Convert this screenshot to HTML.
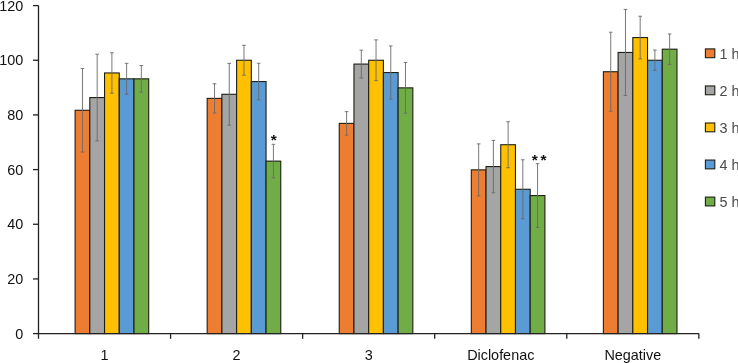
<!DOCTYPE html>
<html><head><meta charset="utf-8"><title>Chart</title>
<style>
html,body{margin:0;padding:0;background:#fff;}
body{width:738px;height:363px;overflow:hidden;}
svg text{font-family:"Liberation Sans",sans-serif;}
.t{font-size:14.4px;fill:#111;}
.l{font-size:14.4px;fill:#4a4a4a;}
.s{font-size:15.5px;fill:#111;font-weight:bold;}
</style></head><body>
<svg width="738" height="363" viewBox="0 0 738 363" style="display:block">
<rect width="738" height="363" fill="#fff"/>
<rect x="75.10" y="110.27" width="14.72" height="223.33" fill="#ED7D31" stroke="#1e1e14" stroke-width="1.1"/>
<rect x="89.82" y="97.56" width="14.72" height="236.04" fill="#A5A5A5" stroke="#1e1e14" stroke-width="1.1"/>
<rect x="104.54" y="72.96" width="14.72" height="260.64" fill="#FFC000" stroke="#1e1e14" stroke-width="1.1"/>
<rect x="119.26" y="78.84" width="14.72" height="254.76" fill="#5B9BD5" stroke="#1e1e14" stroke-width="1.1"/>
<rect x="133.98" y="78.84" width="14.72" height="254.76" fill="#70AD47" stroke="#1e1e14" stroke-width="1.1"/>
<path d="M82.46 68.47V152.07M80.66 68.47h3.6M80.66 152.07h3.6" stroke="#6a6a6a" stroke-width="0.9" fill="none"/>
<path d="M97.18 54.26V140.86M95.38 54.26h3.6M95.38 140.86h3.6" stroke="#6a6a6a" stroke-width="0.9" fill="none"/>
<path d="M111.90 52.76V93.16M110.10 52.76h3.6M110.10 93.16h3.6" stroke="#6a6a6a" stroke-width="0.9" fill="none"/>
<path d="M126.62 63.34V94.34M124.82 63.34h3.6M124.82 94.34h3.6" stroke="#6a6a6a" stroke-width="0.9" fill="none"/>
<path d="M141.34 65.54V92.14M139.54 65.54h3.6M139.54 92.14h3.6" stroke="#6a6a6a" stroke-width="0.9" fill="none"/>
<rect x="207.17" y="98.38" width="14.72" height="235.22" fill="#ED7D31" stroke="#1e1e14" stroke-width="1.1"/>
<rect x="221.89" y="94.28" width="14.72" height="239.32" fill="#A5A5A5" stroke="#1e1e14" stroke-width="1.1"/>
<rect x="236.61" y="60.25" width="14.72" height="273.35" fill="#FFC000" stroke="#1e1e14" stroke-width="1.1"/>
<rect x="251.33" y="81.57" width="14.72" height="252.03" fill="#5B9BD5" stroke="#1e1e14" stroke-width="1.1"/>
<rect x="266.05" y="161.12" width="14.72" height="172.48" fill="#70AD47" stroke="#1e1e14" stroke-width="1.1"/>
<path d="M214.53 83.78V112.98M212.73 83.78h3.6M212.73 112.98h3.6" stroke="#6a6a6a" stroke-width="0.9" fill="none"/>
<path d="M229.25 63.38V125.18M227.45 63.38h3.6M227.45 125.18h3.6" stroke="#6a6a6a" stroke-width="0.9" fill="none"/>
<path d="M243.97 45.35V75.15M242.17 45.35h3.6M242.17 75.15h3.6" stroke="#6a6a6a" stroke-width="0.9" fill="none"/>
<path d="M258.69 63.27V99.87M256.89 63.27h3.6M256.89 99.87h3.6" stroke="#6a6a6a" stroke-width="0.9" fill="none"/>
<path d="M273.41 144.32V177.92M271.61 144.32h3.6M271.61 177.92h3.6" stroke="#6a6a6a" stroke-width="0.9" fill="none"/>
<rect x="339.24" y="123.39" width="14.72" height="210.21" fill="#ED7D31" stroke="#1e1e14" stroke-width="1.1"/>
<rect x="353.96" y="64.08" width="14.72" height="269.52" fill="#A5A5A5" stroke="#1e1e14" stroke-width="1.1"/>
<rect x="368.68" y="60.25" width="14.72" height="273.35" fill="#FFC000" stroke="#1e1e14" stroke-width="1.1"/>
<rect x="383.40" y="72.55" width="14.72" height="261.05" fill="#5B9BD5" stroke="#1e1e14" stroke-width="1.1"/>
<rect x="398.12" y="87.86" width="14.72" height="245.74" fill="#70AD47" stroke="#1e1e14" stroke-width="1.1"/>
<path d="M346.60 111.64V135.14M344.80 111.64h3.6M344.80 135.14h3.6" stroke="#6a6a6a" stroke-width="0.9" fill="none"/>
<path d="M361.32 50.18V77.98M359.52 50.18h3.6M359.52 77.98h3.6" stroke="#6a6a6a" stroke-width="0.9" fill="none"/>
<path d="M376.04 39.85V80.65M374.24 39.85h3.6M374.24 80.65h3.6" stroke="#6a6a6a" stroke-width="0.9" fill="none"/>
<path d="M390.76 45.95V99.15M388.96 45.95h3.6M388.96 99.15h3.6" stroke="#6a6a6a" stroke-width="0.9" fill="none"/>
<path d="M405.48 62.56V113.16M403.68 62.56h3.6M403.68 113.16h3.6" stroke="#6a6a6a" stroke-width="0.9" fill="none"/>
<rect x="471.31" y="169.86" width="14.72" height="163.74" fill="#ED7D31" stroke="#1e1e14" stroke-width="1.1"/>
<rect x="486.03" y="166.58" width="14.72" height="167.02" fill="#A5A5A5" stroke="#1e1e14" stroke-width="1.1"/>
<rect x="500.75" y="144.72" width="14.72" height="188.88" fill="#FFC000" stroke="#1e1e14" stroke-width="1.1"/>
<rect x="515.47" y="189.27" width="14.72" height="144.33" fill="#5B9BD5" stroke="#1e1e14" stroke-width="1.1"/>
<rect x="530.19" y="195.56" width="14.72" height="138.04" fill="#70AD47" stroke="#1e1e14" stroke-width="1.1"/>
<path d="M478.67 143.86V195.86M476.87 143.86h3.6M476.87 195.86h3.6" stroke="#6a6a6a" stroke-width="0.9" fill="none"/>
<path d="M493.39 140.38V192.78M491.59 140.38h3.6M491.59 192.78h3.6" stroke="#6a6a6a" stroke-width="0.9" fill="none"/>
<path d="M508.11 121.72V167.72M506.31 121.72h3.6M506.31 167.72h3.6" stroke="#6a6a6a" stroke-width="0.9" fill="none"/>
<path d="M522.83 159.77V218.77M521.03 159.77h3.6M521.03 218.77h3.6" stroke="#6a6a6a" stroke-width="0.9" fill="none"/>
<path d="M537.55 163.66V227.46M535.75 163.66h3.6M535.75 227.46h3.6" stroke="#6a6a6a" stroke-width="0.9" fill="none"/>
<rect x="603.38" y="71.73" width="14.72" height="261.87" fill="#ED7D31" stroke="#1e1e14" stroke-width="1.1"/>
<rect x="618.10" y="52.46" width="14.72" height="281.14" fill="#A5A5A5" stroke="#1e1e14" stroke-width="1.1"/>
<rect x="632.82" y="37.56" width="14.72" height="296.04" fill="#FFC000" stroke="#1e1e14" stroke-width="1.1"/>
<rect x="647.54" y="60.25" width="14.72" height="273.35" fill="#5B9BD5" stroke="#1e1e14" stroke-width="1.1"/>
<rect x="662.26" y="49.18" width="14.72" height="284.42" fill="#70AD47" stroke="#1e1e14" stroke-width="1.1"/>
<path d="M610.74 32.23V111.23M608.94 32.23h3.6M608.94 111.23h3.6" stroke="#6a6a6a" stroke-width="0.9" fill="none"/>
<path d="M625.46 9.46V95.46M623.66 9.46h3.6M623.66 95.46h3.6" stroke="#6a6a6a" stroke-width="0.9" fill="none"/>
<path d="M640.18 16.26V58.86M638.38 16.26h3.6M638.38 58.86h3.6" stroke="#6a6a6a" stroke-width="0.9" fill="none"/>
<path d="M654.90 50.05V70.45M653.10 50.05h3.6M653.10 70.45h3.6" stroke="#6a6a6a" stroke-width="0.9" fill="none"/>
<path d="M669.62 33.98V64.38M667.82 33.98h3.6M667.82 64.38h3.6" stroke="#6a6a6a" stroke-width="0.9" fill="none"/>
<path d="M38.5 5.5V333.6H698.85" stroke="#222" stroke-width="1.3" fill="none"/>
<path d="M33.0 333.60H38.5" stroke="#222" stroke-width="1.3"/>
<text x="23.2" y="338.70" text-anchor="end" class="t">0</text>
<path d="M33.0 278.93H38.5" stroke="#222" stroke-width="1.3"/>
<text x="23.2" y="284.03" text-anchor="end" class="t">20</text>
<path d="M33.0 224.26H38.5" stroke="#222" stroke-width="1.3"/>
<text x="23.2" y="229.36" text-anchor="end" class="t">40</text>
<path d="M33.0 169.59H38.5" stroke="#222" stroke-width="1.3"/>
<text x="23.2" y="174.69" text-anchor="end" class="t">60</text>
<path d="M33.0 114.92H38.5" stroke="#222" stroke-width="1.3"/>
<text x="23.2" y="120.02" text-anchor="end" class="t">80</text>
<path d="M33.0 60.25H38.5" stroke="#222" stroke-width="1.3"/>
<text x="23.2" y="65.35" text-anchor="end" class="t">100</text>
<path d="M33.0 5.58H38.5" stroke="#222" stroke-width="1.3"/>
<text x="23.2" y="10.68" text-anchor="end" class="t">120</text>
<path d="M38.50 333.6v5.2" stroke="#222" stroke-width="1.3"/>
<path d="M170.57 333.6v5.2" stroke="#222" stroke-width="1.3"/>
<path d="M302.64 333.6v5.2" stroke="#222" stroke-width="1.3"/>
<path d="M434.71 333.6v5.2" stroke="#222" stroke-width="1.3"/>
<path d="M566.78 333.6v5.2" stroke="#222" stroke-width="1.3"/>
<path d="M698.85 333.6v5.2" stroke="#222" stroke-width="1.3"/>
<text x="104.53" y="359.5" text-anchor="middle" class="t">1</text>
<text x="236.60" y="359.5" text-anchor="middle" class="t">2</text>
<text x="368.67" y="359.5" text-anchor="middle" class="t">3</text>
<text x="500.75" y="359.5" text-anchor="middle" class="t">Diclofenac</text>
<text x="632.81" y="359.5" text-anchor="middle" class="t">Negative</text>
<text x="273.7" y="144.7" text-anchor="middle" class="s">*</text>
<text x="534.8" y="164.5" text-anchor="middle" class="s">*</text>
<text x="543.6" y="164.5" text-anchor="middle" class="s">*</text>
<rect x="705.4" y="48.90" width="9.4" height="8.8" fill="#ED7D31" stroke="#1e1e14" stroke-width="1.1"/>
<text x="719.6" y="58.60" class="l">1 h</text>
<rect x="705.4" y="85.95" width="9.4" height="8.8" fill="#A5A5A5" stroke="#1e1e14" stroke-width="1.1"/>
<text x="719.6" y="95.65" class="l">2 h</text>
<rect x="705.4" y="123.00" width="9.4" height="8.8" fill="#FFC000" stroke="#1e1e14" stroke-width="1.1"/>
<text x="719.6" y="132.70" class="l">3 h</text>
<rect x="705.4" y="160.05" width="9.4" height="8.8" fill="#5B9BD5" stroke="#1e1e14" stroke-width="1.1"/>
<text x="719.6" y="169.75" class="l">4 h</text>
<rect x="705.4" y="197.10" width="9.4" height="8.8" fill="#70AD47" stroke="#1e1e14" stroke-width="1.1"/>
<text x="719.6" y="206.80" class="l">5 h</text>
</svg>
</body></html>
